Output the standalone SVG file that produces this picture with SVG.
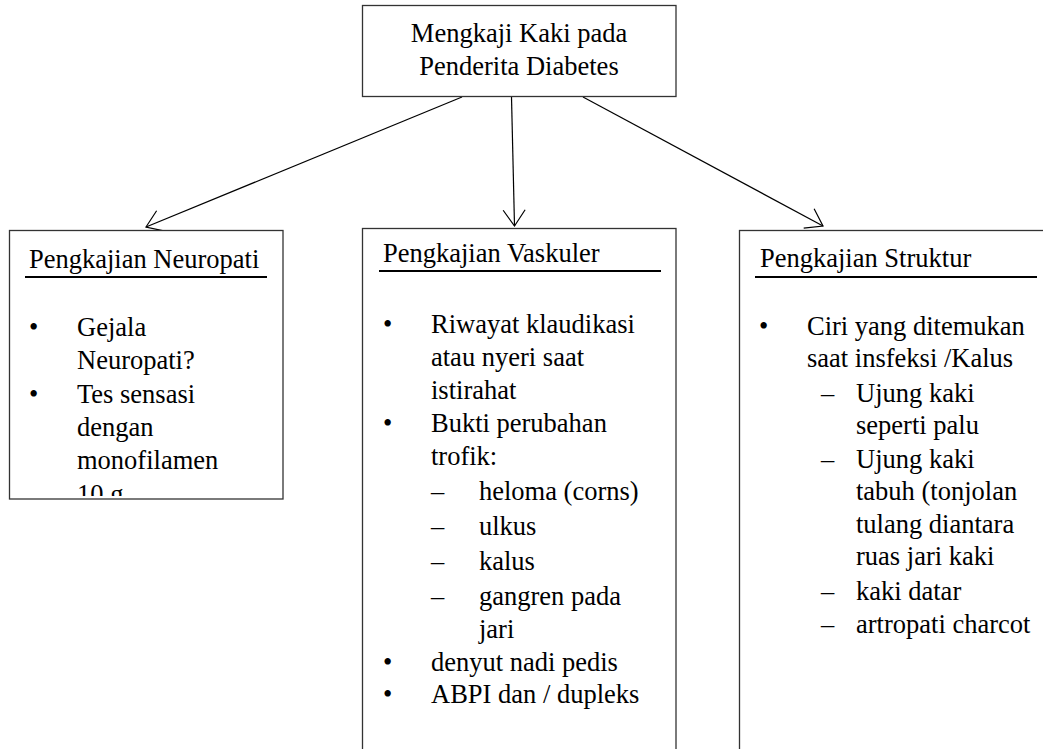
<svg xmlns="http://www.w3.org/2000/svg" width="1043" height="749" viewBox="0 0 1043 749">
<style>
.box{fill:#fff;stroke:#333;stroke-width:1.3}
.t{font-family:"Liberation Serif","Times New Roman",serif;font-size:26.5px;fill:#000}
.ul{stroke:#000;stroke-width:2}
.conn{stroke:#000;stroke-width:1.2;fill:none}
</style>
<defs>
<marker id="arr" markerUnits="userSpaceOnUse" markerWidth="18" markerHeight="24" viewBox="0 0 18 24" refX="16" refY="12" orient="auto" overflow="visible">
<path d="M0,1 L16,12 L0,23" fill="none" stroke="#000" stroke-width="1.2"/>
</marker>
<clipPath id="clipL"><rect x="10" y="231" width="272" height="265"/></clipPath>
</defs>
<rect width="1043" height="749" fill="#fff"/>
<g id="connectors">
<line class="conn" x1="462" y1="97" x2="146" y2="227" marker-end="url(#arr)"/>
<line class="conn" x1="511.5" y1="97" x2="514.5" y2="226" marker-end="url(#arr)"/>
<line class="conn" x1="583" y1="97" x2="823" y2="226" marker-end="url(#arr)"/>
</g>
<g id="top">
<rect class="box" x="362.5" y="5.5" width="313.5" height="91"/>
<text class="t" x="519" y="42" text-anchor="middle">Mengkaji Kaki pada</text>
<text class="t" x="519" y="75" text-anchor="middle">Penderita Diabetes</text>
</g>
<g id="neuropati">
<rect class="box" x="9.5" y="230.5" width="273.5" height="268.5"/>
<text class="t" x="29" y="268">Pengkajian Neuropati</text>
<line class="ul" x1="25" y1="277" x2="267" y2="277"/>
<g clip-path="url(#clipL)">
<text class="t" x="29" y="336">•</text>
<text class="t" x="77" y="336">Gejala</text>
<text class="t" x="77" y="369">Neuropati?</text>
<text class="t" x="29" y="403">•</text>
<text class="t" x="77" y="403">Tes sensasi</text>
<text class="t" x="77" y="436">dengan</text>
<text class="t" x="77" y="469">monofilamen</text>
<text class="t" x="77" y="503">10 g</text>
</g>
</g>
<g id="vaskuler">
<rect class="box" x="362.5" y="228.5" width="313.5" height="540"/>
<text class="t" x="383" y="262">Pengkajian Vaskuler</text>
<line class="ul" x1="379" y1="271" x2="661" y2="271"/>
<text class="t" x="383" y="333">•</text>
<text class="t" x="431" y="333">Riwayat klaudikasi</text>
<text class="t" x="431" y="366">atau nyeri saat</text>
<text class="t" x="431" y="399">istirahat</text>
<text class="t" x="383" y="432">•</text>
<text class="t" x="431" y="432">Bukti perubahan</text>
<text class="t" x="431" y="465">trofik:</text>
<text class="t" x="431" y="500">–</text>
<text class="t" x="479" y="500">heloma (corns)</text>
<text class="t" x="431" y="535">–</text>
<text class="t" x="479" y="535">ulkus</text>
<text class="t" x="431" y="570">–</text>
<text class="t" x="479" y="570">kalus</text>
<text class="t" x="431" y="605">–</text>
<text class="t" x="479" y="605">gangren pada</text>
<text class="t" x="479" y="638">jari</text>
<text class="t" x="383" y="671">•</text>
<text class="t" x="431" y="671">denyut nadi pedis</text>
<text class="t" x="383" y="703">•</text>
<text class="t" x="431" y="703">ABPI dan / dupleks</text>
</g>
<g id="struktur">
<rect class="box" x="739.5" y="230.5" width="320" height="540"/>
<text class="t" x="760" y="267">Pengkajian Struktur</text>
<line class="ul" x1="755" y1="277" x2="1037" y2="277"/>
<text class="t" x="759" y="335">•</text>
<text class="t" x="807" y="335">Ciri yang ditemukan</text>
<text class="t" x="807" y="367">saat insfeksi /Kalus</text>
<text class="t" x="821" y="402">–</text>
<text class="t" x="856" y="402">Ujung kaki</text>
<text class="t" x="856" y="434">seperti palu</text>
<text class="t" x="821" y="468">–</text>
<text class="t" x="856" y="468">Ujung kaki</text>
<text class="t" x="856" y="500">tabuh (tonjolan</text>
<text class="t" x="856" y="533">tulang diantara</text>
<text class="t" x="856" y="565">ruas jari kaki</text>
<text class="t" x="821" y="600">–</text>
<text class="t" x="856" y="600">kaki datar</text>
<text class="t" x="821" y="633">–</text>
<text class="t" x="856" y="633">artropati charcot</text>
</g>
</svg>
